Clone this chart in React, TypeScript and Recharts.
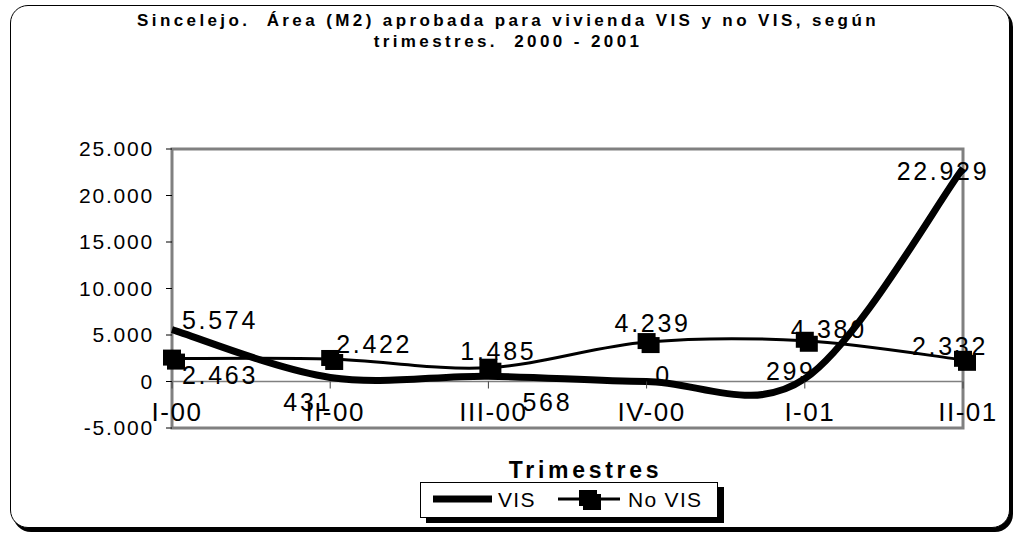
import React from 'react';
import {
  ComposedChart,
  Line,
  XAxis,
  YAxis,
  ReferenceLine,
  ReferenceArea,
  ReferenceDot,
  LabelList,
  Legend,
} from 'recharts';

const FONT = '"Liberation Sans", Arial, Helvetica, sans-serif';

const categories = ['I-00', 'II-00', 'III-00', 'IV-00', 'I-01', 'II-01'];
const visValues = [5574, 431, 568, 0, 299, 22929];
const noVisValues = [2463, 2422, 1485, 4239, 4380, 2332];
const yTicks = [-5000, 0, 5000, 10000, 15000, 20000, 25000];

// label placement (text centre relative to the point), styling only
const visLabelOffsets = [[48, -10], [-22, 25], [59, 26], [17, -7], [-14, -8], [-20, 3]];
const noVisLabelOffsets = [[48, 16], [44, -15], [10, -17], [6, -19], [24, -12], [-13, -14]];

const data = categories.map((c, i) => ({ cat: c, vis: visValues[i], noVis: noVisValues[i] }));

const fmt = (v: number) => {
  const s = Math.abs(Math.round(v)).toString().replace(/\B(?=(\d{3})+(?!\d))/g, '.');
  return (v < 0 ? '-' : '') + s;
};

// Excel-like smoothed line (Catmull-Rom, cardinal tension 0)
const excelSmooth: any = (context: any) => {
  let pts: [number, number][] = [];
  return {
    areaStart() {},
    areaEnd() {},
    lineStart() {
      pts = [];
    },
    point(x: number, y: number) {
      pts.push([+x, +y]);
    },
    lineEnd() {
      const n = pts.length;
      if (!n) return;
      context.moveTo(pts[0][0], pts[0][1]);
      for (let i = 0; i < n - 1; i++) {
        const p0 = pts[i - 1] || pts[i];
        const p1 = pts[i];
        const p2 = pts[i + 1];
        const p3 = pts[i + 2] || pts[i + 1];
        const c1x = p1[0] + (p2[0] - p0[0]) / 6;
        const c1y = p1[1] + (p2[1] - p0[1]) / 6;
        const c2x = p2[0] - (p3[0] - p1[0]) / 6;
        const c2y = p2[1] - (p3[1] - p1[1]) / 6;
        context.bezierCurveTo(c1x, c1y, c2x, c2y, p2[0], p2[1]);
      }
    },
  };
};

const Marker = ({ cx, cy }: { cx: number; cy: number }) => (
  <g>
    <rect x={cx - 9} y={cy - 9} width={18} height={16} fill="#000" />
    <rect x={cx - 5} y={cy - 5} width={18} height={16} fill="#000" />
  </g>
);

const renderSquare = (p: any) => {
  if (p.cx == null || p.cy == null) return <g key={`m-${p.index}`} />;
  return (
    <g key={`m-${p.index}`}>
      <Marker cx={p.cx} cy={p.cy} />
    </g>
  );
};

const makeLabel = (offsets: number[][]) => (p: any) => {
  const idx = p.index ?? 0;
  const x = p.viewBox?.x ?? p.x;
  const y = p.viewBox?.y ?? p.y;
  const off = offsets[idx] || [0, 0];
  return (
    <text
      key={`l-${idx}`}
      x={x + off[0]}
      y={y + off[1]}
      dy="0.36em"
      textAnchor="middle"
      fontFamily={FONT}
      fontSize={25}
      letterSpacing={2.7}
      fill="#000"
    >
      {fmt(Number(p.value))}
    </text>
  );
};

const YTick = (p: any) => (
  <text
    x={p.x}
    y={p.y}
    dy="0.355em"
    textAnchor="end"
    fontFamily={FONT}
    fontSize={21}
    letterSpacing={1.8}
    fill="#000"
  >
    {fmt(p.payload.value)}
  </text>
);

const catTick = (label: string) => (p: any) => (
  <g>
    <line x1={p.cx} y1={p.cy} x2={p.cx} y2={p.cy + 7} stroke="#404040" strokeWidth={1} />
    <text
      x={p.cx + 5}
      y={p.cy + 30}
      dy="0.36em"
      textAnchor="middle"
      fontFamily={FONT}
      fontSize={26}
      letterSpacing={1.5}
      fill="#000"
    >
      {label}
    </text>
  </g>
);

const LegendContent = (props: any) => {
  const payload = props.payload || [];
  const vis = payload.find((e: any) => e.dataKey === 'vis');
  const noVis = payload.find((e: any) => e.dataKey === 'noVis');
  return (
    <div
      style={{
        width: 298,
        height: 36,
        boxSizing: 'border-box',
        border: '1px solid #000',
        background: '#fff',
        boxShadow: '6px 5px 0 #000',
      }}
    >
      <svg width={296} height={34} style={{ display: 'block' }}>
        <line x1={12} y1={16} x2={71} y2={16} stroke="#000" strokeWidth={7} />
        <text x={77} y={24} fontFamily={FONT} fontSize={21} letterSpacing={1.3} fill="#000">
          {vis ? vis.value : 'VIS'}
        </text>
        <line x1={137} y1={16} x2={199} y2={16} stroke="#000" strokeWidth={3} />
        <Marker cx={167} cy={16} />
        <text x={207} y={24} fontFamily={FONT} fontSize={21} letterSpacing={1.3} fill="#000">
          {noVis ? noVis.value : 'No VIS'}
        </text>
      </svg>
    </div>
  );
};

const AxisTitle = (p: any) => {
  const vb = p.viewBox || { x: 0, y: 0, width: 0, height: 0 };
  return (
    <text
      x={vb.x + vb.width / 2 + 18}
      y={vb.y + 50}
      textAnchor="middle"
      fontFamily={FONT}
      fontWeight="bold"
      fontSize={23}
      letterSpacing={3.7}
      fill="#000"
    >
      Trimestres
    </text>
  );
};

export default function App() {
  return (
    <div
      style={{
        position: 'absolute',
        left: 0,
        top: 0,
        width: 1016,
        height: 536,
        background: '#fff',
        fontFamily: FONT,
      }}
    >
      <div
        style={{
          position: 'absolute',
          left: 10,
          top: 5,
          width: 1000,
          height: 523,
          boxSizing: 'border-box',
          border: '1.5px solid #000',
          borderRadius: 18,
          boxShadow: '3px 4px 0 0 #000',
          background: '#fff',
        }}
      />
      <div
        style={{
          position: 'absolute',
          left: 0,
          top: 10,
          width: 1016,
          textAlign: 'center',
          fontWeight: 'bold',
          fontSize: 17,
          letterSpacing: '3.4px',
          lineHeight: '21px',
          color: '#000',
        }}
      >
        Sincelejo.&nbsp; Área (M2) aprobada para vivienda VIS y no VIS, según
        <br />
        trimestres.&nbsp; 2000 - 2001
      </div>
      <div style={{ position: 'absolute', left: 0, top: 0 }}>
        <ComposedChart
          width={1016}
          height={536}
          data={data}
          margin={{ top: 149, right: 53, bottom: 58, left: 112 }}
        >
          <XAxis
            dataKey="cat"
            tick={false}
            axisLine={false}
            tickLine={false}
            height={50}
            label={<AxisTitle />}
          />
          <YAxis
            domain={[-5000, 25000]}
            ticks={yTicks}
            interval={0}
            axisLine={false}
            tickLine={{ stroke: '#000', strokeWidth: 1 }}
            tickSize={6}
            tickMargin={12}
            width={60}
            tick={<YTick />}
            allowDataOverflow
          />
          <ReferenceArea
            x1={categories[0]}
            x2={categories[categories.length - 1]}
            y1={-5000}
            y2={25000}
            fill="none"
            fillOpacity={0}
            stroke="#808080"
            strokeWidth={3}
            ifOverflow="visible"
          />
          <ReferenceLine y={0} stroke="#808080" strokeWidth={1.5} ifOverflow="visible" />
          {categories.map((c) => (
            <ReferenceDot key={c} x={c} y={0} r={1} ifOverflow="visible" shape={catTick(c)} />
          ))}
          <Line
            dataKey="vis"
            name="VIS"
            type={excelSmooth}
            stroke="#000"
            strokeWidth={7}
            dot={false}
            activeDot={false}
            isAnimationActive={false}
          >
            <LabelList dataKey="vis" content={makeLabel(visLabelOffsets)} />
          </Line>
          <Line
            dataKey="noVis"
            name="No VIS"
            type={excelSmooth}
            stroke="#000"
            strokeWidth={3}
            dot={renderSquare}
            activeDot={false}
            isAnimationActive={false}
          >
            <LabelList dataKey="noVis" content={makeLabel(noVisLabelOffsets)} />
          </Line>
          <Legend
            layout="horizontal"
            verticalAlign="middle"
            align="center"
            width={306}
            wrapperStyle={{ left: 420, top: 482, width: 306, height: 42 }}
            content={<LegendContent />}
          />
        </ComposedChart>
      </div>
    </div>
  );
}
